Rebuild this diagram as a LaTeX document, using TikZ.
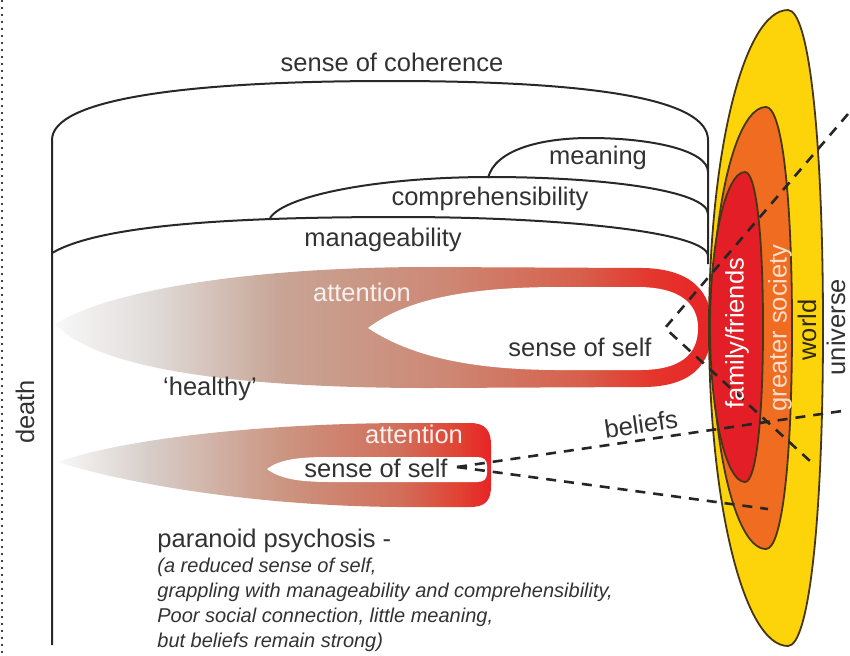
\documentclass[tikz,border=0pt]{standalone}
\usepackage{fontspec}
\setmainfont{Liberation Sans}
\definecolor{txt}{RGB}{50,50,50}
\definecolor{lineblk}{RGB}{40,40,40}
\definecolor{yel}{RGB}{253,212,10}
\definecolor{ora}{RGB}{240,108,32}
\definecolor{redd}{RGB}{228,30,38}
\definecolor{edge}{RGB}{70,55,20}
\definecolor{peach}{RGB}{250,222,205}
\definecolor{attwhite}{RGB}{248,240,236}
\definecolor{worldtxt}{RGB}{45,40,15}
\definecolor{hA}{RGB}{248,248,248}
\definecolor{hB}{RGB}{225,220,218}
\definecolor{hC}{RGB}{200,165,150}
\definecolor{hD}{RGB}{205,135,115}
\definecolor{hE}{RGB}{215,95,75}
\definecolor{hF}{RGB}{228,55,45}
\definecolor{hG}{RGB}{232,35,38}
\definecolor{pA}{RGB}{248,248,248}
\definecolor{pB}{RGB}{215,205,200}
\definecolor{pC}{RGB}{203,150,130}
\definecolor{pD}{RGB}{210,110,90}
\definecolor{pE}{RGB}{225,65,50}
\definecolor{pF}{RGB}{232,35,38}
\pgfdeclarehorizontalshading{healthyshade}{100bp}{color(0bp)=(hA); color(25bp)=(hA); color(32.25bp)=(hB); color(42bp)=(hC); color(55bp)=(hD); color(65bp)=(hE); color(70.25bp)=(hF); color(75bp)=(hG); color(100bp)=(hG)}
\pgfdeclarehorizontalshading{paranoidshade}{100bp}{color(0bp)=(pA); color(25bp)=(pA); color(35.6bp)=(pB); color(50.7bp)=(pC); color(64.5bp)=(pD); color(71.5bp)=(pE); color(75bp)=(pF); color(100bp)=(pF)}
\begin{document}
\begin{tikzpicture}[x=0.5pt,y=-0.5pt,
  lbl/.style={inner sep=0pt, text=txt, font=\fontsize{12.75}{15}\selectfont},
  ital/.style={inner sep=0pt, text=txt, anchor=base west, font=\fontsize{10}{12}\selectfont\itshape},
  arcline/.style={draw=lineblk, line width=1pt},
  eggline/.style={draw=edge, line width=0.9pt},
  dashline/.style={draw=black!85, line width=1.3pt, dash pattern=on 5pt off 4pt},
]
\useasboundingbox (0,0) rectangle (850,655);
% left dotted border
\draw[black, line width=1.2pt, line cap=round, dash pattern=on 0pt off 3.5pt] (2,1) -- (2,654);

% healthy attention shape
\shade[shading=healthyshade] (55,324) .. controls (110,290) and (250,267) .. (430,267) -- (645,268) .. controls (700,270) and (712,300) .. (712,327) .. controls (712,356) and (700,386) .. (645,387) -- (430,388) .. controls (250,388) and (100,372) .. (55,324) -- cycle;
\fill[white] (368,328) .. controls (410,296) and (480,287) .. (560,287) -- (640,287) .. controls (688,288) and (698,310) .. (698,328) .. controls (698,348) and (688,370) .. (640,370) -- (560,370) .. controls (470,370) and (410,356) .. (368,328) -- cycle;

% paranoid attention shape
\shade[shading=paranoidshade] (58,462) .. controls (120,440) and (250,424) .. (400,423) -- (470,423) .. controls (485,423) and (491,430) .. (491,445) -- (491,486) .. controls (491,501) and (485,507) .. (470,507) -- (400,507) .. controls (250,506) and (120,482) .. (58,462) -- cycle;
\fill[white] (267,469) .. controls (280,459) and (300,457) .. (330,457) -- (477,457) .. controls (484,457) and (487,460) .. (487,466) -- (487,473) .. controls (487,479) and (484,482) .. (477,482) -- (330,482) .. controls (300,482) and (280,479) .. (267,469) -- cycle;

% nested social circles
\filldraw[fill=yel, eggline] (788,10) .. controls (809,10) and (823,137) .. (823,328) .. controls (823,519) and (809,646) .. (788,646) .. controls (744,646) and (709,504) .. (709,328) .. controls (709,152) and (744,10) .. (788,10) -- cycle;
\filldraw[fill=ora, eggline] (766,107) .. controls (782,107) and (792,195) .. (792,328) .. controls (792,461) and (782,549) .. (766,549) .. controls (736,549) and (712,450) .. (712,328) .. controls (712,206) and (736,107) .. (766,107) -- cycle;
\filldraw[fill=redd, eggline] (745,172) .. controls (756,172) and (763,234) .. (763,327) .. controls (763,420) and (756,482) .. (745,482) .. controls (726,482) and (710,413) .. (710,327) .. controls (710,241) and (726,172) .. (745,172) -- cycle;

% coherence arcs and death axis
\draw[arcline] (52,645) -- (52,140) .. controls (52,100) and (180,81) .. (390,81) .. controls (600,81) and (708,100) .. (708,140) -- (708,264);
\draw[arcline] (52,253) .. controls (100,225) and (230,217) .. (400,217) .. controls (560,217) and (708,232) .. (708,256);
\draw[arcline] (270,218) .. controls (285,195) and (380,177) .. (490,177) .. controls (600,177) and (708,190) .. (708,214);
\draw[arcline] (488,178) .. controls (495,150) and (540,138) .. (590,138) .. controls (650,138) and (708,150) .. (708,172);

% dashed lines
\coordinate (hA) at (848,114);
\coordinate (hV) at (665,328);
\coordinate (hB) at (810,461);
\coordinate (pS) at (457,467);
\coordinate (bE) at (842,411);
\coordinate (lE) at (768,509);
\draw[dashline] (hA) -- (hV) -- (hB);
\draw[dashline] (pS) -- (bE);
\draw[dashline] (pS) -- (lE);

% labels
\node[lbl, anchor=base] (soc) at (392,71) {sense of coherence};
\node[lbl, anchor=base] (mean) at (598,164) {meaning};
\node[lbl, anchor=base] (comp) at (490,205) {comprehensibility};
\node[lbl, anchor=base] (mana) at (383,246) {manageability};
\node[lbl, anchor=base, text=attwhite] (att1) at (362,301) {attention};
\node[lbl, anchor=base] (self1) at (580,356) {sense of self};
\node[lbl, anchor=base] (healthy) at (210,395) {‘healthy’};
\node[lbl, anchor=base, text=attwhite] (att2) at (414,443) {attention};
\node[lbl, anchor=base] (self2) at (376,477) {sense of self};
\node[lbl, anchor=base west] (para) at (157,547) {paranoid psychosis -};
\node[ital] (i1) at (157,572) {(a reduced sense of self,};
\node[ital] (i2) at (157,597) {grappling with manageability and comprehensibility,};
\node[ital] (i3) at (157,622) {Poor social connection, little meaning,};
\node[ital] (i4) at (157,647) {but beliefs remain strong)};
\node[lbl, rotate=90] (death) at (25,412) {death};
\node[lbl, rotate=8] (bel) at (641,424) {beliefs};
\node[lbl, rotate=90, text=white] (fam) at (737,333) {family/friends};
\node[lbl, rotate=90, text=peach] (gsoc) at (780,328) {greater society};
\node[lbl, rotate=90, text=worldtxt] (world) at (807,330) {world};
\node[lbl, rotate=90] (univ) at (836,327) {universe};
\end{tikzpicture}
\end{document}
